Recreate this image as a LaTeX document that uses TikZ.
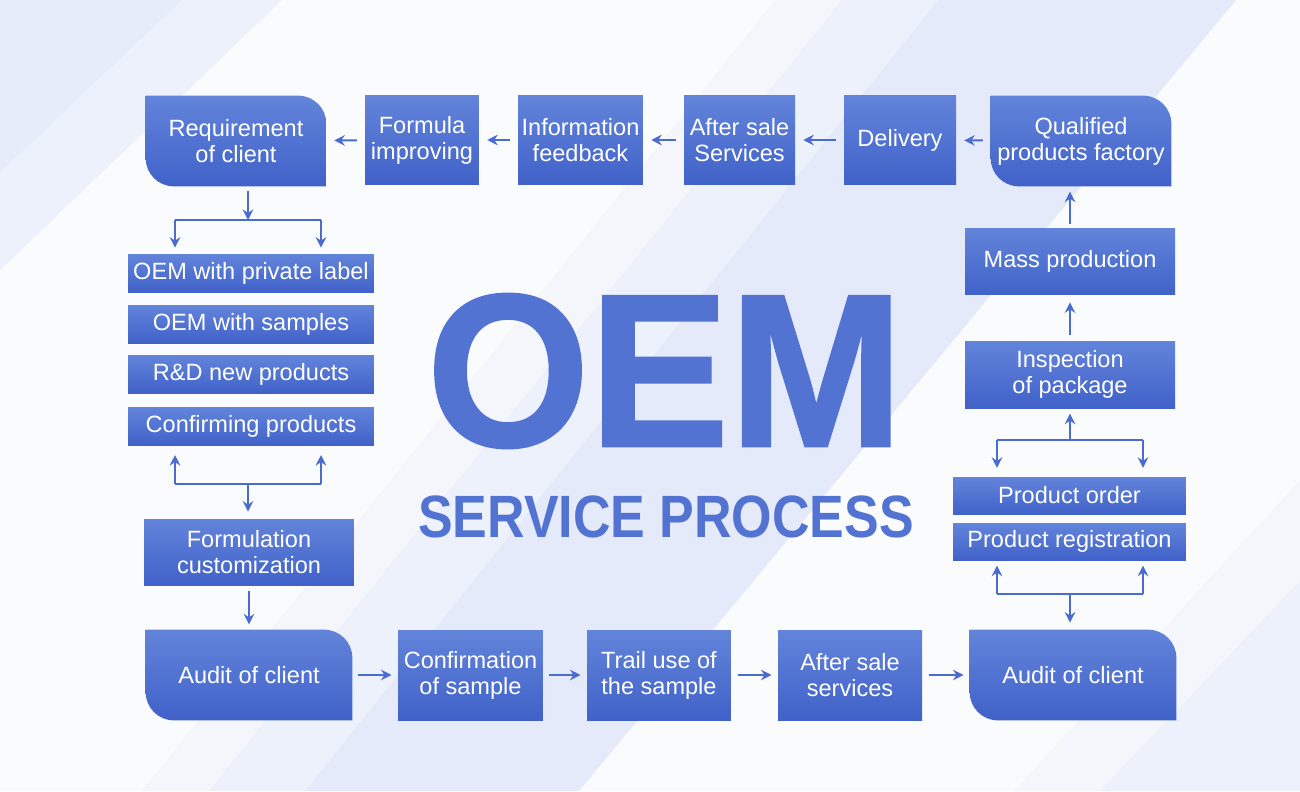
\documentclass[tikz,border=0pt]{standalone}
\usepackage{fontspec}
\setmainfont{Liberation Sans}
\newfontfamily\oemfont{Liberation Sans Bold}[FakeBold=1.2]
\usetikzlibrary{arrows.meta,positioning,calc,backgrounds}

\definecolor{boxtop}{HTML}{6384DA}
\definecolor{boxbot}{HTML}{4062C9}
\definecolor{linkblue}{HTML}{4A6BD0}
\definecolor{oemblue}{HTML}{5273D2}
\definecolor{bgwhite}{HTML}{FAFBFD}
\definecolor{bandA}{HTML}{E4EAF9}
\definecolor{bandB}{HTML}{EDF1FB}
\definecolor{bandC}{HTML}{F4F6FC}

\tikzset{
  box/.style={rectangle, inner sep=0pt, top color=boxtop, bottom color=boxbot,
    text=white, align=center, font=\fontsize{13.4}{14.7}\selectfont},
  roundbox/.style={rectangle, inner sep=0pt, text=white, align=center,
    font=\fontsize{13.4}{14.7}\selectfont},
  wire/.style={draw=linkblue, line width=1.1pt},
  link/.style={wire, -{Stealth[length=6pt,width=6pt,inset=2pt]}},
  gap/.style={shorten <=#1, shorten >=#1},
}

% shaded box with two rounded corners (top right, bottom left)
\newcommand{\cornerbox}[1]{%
  \shade[top color=boxtop,bottom color=boxbot]
    (#1.north west) -- ($(#1.north east)+(-16pt,0)$)
    arc[start angle=90, end angle=0, radius=16pt] -- (#1.south east)
    -- ($(#1.south west)+(16pt,0)$)
    arc[start angle=270, end angle=180, radius=16pt] -- cycle;}

\begin{document}
\begin{tikzpicture}[x=0.02cm,y=-0.02cm]
\useasboundingbox (0,0) rectangle (1300,791);

% background stripes
\begin{scope}[on background layer]
\fill[bgwhite] (0,0) rectangle (1300,791);
\fill[bandB] (0,0) -- (282,0) -- (0,270) -- cycle;
\fill[bandA!70!bandB] (0,0) -- (182,0) -- (0,172) -- cycle;
\fill[bandC] (775,0) -- (842,0) -- (209,791) -- (142,791) -- cycle;
\fill[bandB] (842,0) -- (938,0) -- (305,791) -- (209,791) -- cycle;
\fill[bandA] (938,0) -- (1236,0) -- (579,791) -- (305,791) -- cycle;
\fill[bandC] (1300,480) -- (1300,791) -- (1014,791) -- cycle;
\fill[bandB] (1300,581) -- (1300,791) -- (1100,791) -- cycle;
\end{scope}

% top row
\node[roundbox, minimum width=3.6cm, minimum height=1.8cm] (rc) at (236,141) {Requirement\\of client};
\node[box, minimum width=2.28cm, minimum height=1.8cm] (fi) at (422,140) {Formula\\improving};
\node[box, minimum width=2.5cm, minimum height=1.8cm] (inf) at (580.5,140) {Information\\feedback};
\node[box, minimum width=2.22cm, minimum height=1.8cm] (as) at (739.5,140) {After sale\\Services};
\node[box, minimum width=2.24cm, minimum height=1.8cm] (del) at (900,140) {Delivery};
\node[roundbox, minimum width=3.6cm, minimum height=1.8cm] (qp) at (1081,141) {Qualified\\products factory};

% left column
\node[box, minimum width=4.92cm, minimum height=0.76cm] (ol) at (251,273) {OEM with private label};
\node[box, minimum width=4.92cm, minimum height=0.76cm] (os) at (251,324) {OEM with samples};
\node[box, minimum width=4.92cm, minimum height=0.76cm] (rd) at (251,374) {R\&D new products};
\node[box, minimum width=4.92cm, minimum height=0.76cm] (cp) at (251,426) {Confirming products};
\node[box, minimum width=4.2cm, minimum height=1.32cm] (fc) at (249,552) {Formulation\\customization};
\node[roundbox, minimum width=4.12cm, minimum height=1.8cm] (al) at (249,675) {Audit of client};

% bottom row
\node[box, minimum width=2.9cm, minimum height=1.8cm] (cs) at (470.5,675) {Confirmation\\of sample};
\node[box, minimum width=2.88cm, minimum height=1.8cm] (tu) at (659,675) {Trail use of\\the sample};
\node[box, minimum width=2.88cm, minimum height=1.8cm] (ss) at (850,675) {After sale\\services};
\node[roundbox, minimum width=4.12cm, minimum height=1.8cm] (ar) at (1073,675) {Audit of client};

% right column
\node[box, minimum width=4.2cm, minimum height=1.34cm] (mp) at (1070,261.5) {Mass production};
\node[box, minimum width=4.2cm, minimum height=1.34cm] (ip) at (1070,374.5) {Inspection\\of package};
\node[box, minimum width=4.66cm, minimum height=0.74cm] (po) at (1069.5,495.5) {Product order};
\node[box, minimum width=4.66cm, minimum height=0.74cm] (pr) at (1069.5,541.5) {Product registration};

\begin{scope}[on background layer]
\cornerbox{rc}\cornerbox{qp}\cornerbox{al}\cornerbox{ar}
\end{scope}

% title
\node[font=\fontsize{124}{124}\oemfont, text=oemblue, anchor=base, inner sep=0pt] (oem) at (665,446) {\scalebox{0.96}[1]{OEM}};
\node[font=\fontsize{34}{34}\selectfont\bfseries, text=oemblue, anchor=base, inner sep=0pt] (svc) at (666,537) {\scalebox{0.87}[1]{SERVICE PROCESS}};

% top row links
\draw[link, gap=4.5pt] (qp) -- (del);
\draw[link, gap=4.5pt] (del) -- (as);
\draw[link, gap=4.5pt] (as) -- (inf);
\draw[link, gap=4.5pt] (inf) -- (fi);
\draw[link, gap=4.5pt] (fi) -- (rc);

% left brackets
\coordinate (lt) at (248,220);
\coordinate (ltl) at (175,220);
\coordinate (ltr) at (321,220);
\draw[link, shorten <=2.5pt] (rc.south -| lt) -- (lt);
\draw[wire] (ltl) -- (ltr);
\draw[link, shorten >=3.4pt] (ltl) -- (ltl |- ol.north);
\draw[link, shorten >=3.4pt] (ltr) -- (ltr |- ol.north);

\coordinate (lb) at (248,484);
\coordinate (lbl) at (175,484);
\coordinate (lbr) at (321,484);
\draw[wire] (lbl) -- (lbr);
\draw[link, shorten >=5.5pt] (lbl) -- (lbl |- cp.south);
\draw[link, shorten >=5.5pt] (lbr) -- (lbr |- cp.south);
\draw[link, shorten >=4pt] (lb) -- (lb |- fc.north);
\draw[link, gap=3pt] (fc.south) -- (al.north);

% bottom row links
\draw[link, gap=3.5pt] (al) -- (cs);
\draw[link, gap=3.5pt] (cs) -- (tu);
\draw[link, gap=3.5pt] (tu) -- (ss);
\draw[link, gap=3.5pt] (ss) -- (ar);

% right brackets
\coordinate (rb) at (1070,594);
\coordinate (rbl) at (997,594);
\coordinate (rbr) at (1143,594);
\draw[wire] (rbl) -- (rbr);
\draw[link, shorten >=4pt] (rb) -- (rb |- ar.north);
\draw[link, shorten >=3pt] (rbl) -- (rbl |- pr.south);
\draw[link, shorten >=3pt] (rbr) -- (rbr |- pr.south);

\coordinate (rt) at (1070,440);
\coordinate (rtl) at (997,440);
\coordinate (rtr) at (1143,440);
\draw[wire] (rtl) -- (rtr);
\draw[link, shorten >=5pt] (rtl) -- (rtl |- po.north);
\draw[link, shorten >=5pt] (rtr) -- (rtr |- po.north);
\draw[link, shorten >=3pt] (rt) -- (rt |- ip.south);
\draw[link, shorten <=3pt, shorten >=4pt] (ip.north) -- (mp.south);
\draw[link, shorten <=2pt, shorten >=3pt] (mp.north) -- (mp.north |- qp.south);
\end{tikzpicture}
\end{document}
